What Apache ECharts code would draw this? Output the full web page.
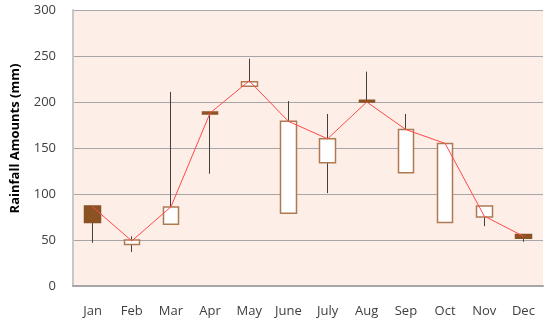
<!DOCTYPE html>
<html><head><meta charset="utf-8">
<script src="https://cdn.jsdelivr.net/npm/echarts@6/dist/echarts.min.js"></script>
<style>html,body{margin:0;padding:0;background:#fff}#c{width:550px;height:329px}</style>
</head><body><div id="c"></div>
<script>
var months = ['Jan','Feb','Mar','Apr','May','June','July','Aug','Sep','Oct','Nov','Dec'];
var openVals  = [87, 45, 67, 189, 217, 79, 134, 202, 123, 69, 75, 56];
var closeVals = [69, 50, 86, 187, 222, 179, 160, 200, 170, 155, 87, 52];
var lowVals   = [47, 37, 67, 122, 217, 79, 101, 199, 123, 69, 65, 48];
var highVals  = [87, 54, 211, 189, 247, 201, 187, 233, 187, 155, 87, 56];
var lineVals  = [86, 49, 86, 188, 223, 179, 160, 200, 170, 155, 76, 54];

var whisk = months.map(function(m,i){return [openVals[i], closeVals[i], lowVals[i], highVals[i]];});
var boxes = months.map(function(m,i){
  var lo=Math.min(openVals[i],closeVals[i]), hi=Math.max(openVals[i],closeVals[i]);
  return [openVals[i], closeVals[i], lo, hi];
});
var font = 'Open Sans';
var chart = echarts.init(document.getElementById('c'), null, {renderer:'canvas'});
chart.setOption({
  animation:false,
  grid:{left:73, right:7, top:10, bottom:43, show:true, backgroundColor:'#fdeee8', borderWidth:0},
  xAxis:{type:'category', data:months, boundaryGap:true,
    axisLine:{show:true, lineStyle:{color:'#a6a6a6', width:2}},
    axisTick:{show:false},
    axisLabel:{color:'#404040', fontFamily:font, fontSize:13, margin:19}},
  yAxis:{type:'value', min:0, max:300, interval:50,
    name:'Rainfall Amounts (mm)', nameLocation:'middle', nameGap:51,
    nameTextStyle:{color:'#000', fontFamily:font, fontSize:13, fontWeight:'bold', padding:[0,0,0,19]},
    axisLine:{show:true, lineStyle:{color:'#c8c8c8', width:2}},
    axisTick:{show:false},
    splitLine:{lineStyle:{color:'#a6a6a6', width:1}},
    axisLabel:{color:'#404040', fontFamily:font, fontSize:13, margin:17}},
  series:[
    {type:'candlestick', data:whisk, barWidth:1, z:2,
     itemStyle:{color:'#404040', color0:'#404040', borderColor:'#404040', borderColor0:'#404040', borderWidth:1}},
    {type:'candlestick', data:boxes, barWidth:16, z:3,
     itemStyle:{color:'#ffffff', color0:'#8b5224', borderColor:'#b07a50', borderColor0:'#8b5224', borderWidth:1.5}},
    {type:'line', data:lineVals, symbol:'none', z:4,
     lineStyle:{color:'#ff4a4a', width:1}}
  ]
});
</script></body></html>
